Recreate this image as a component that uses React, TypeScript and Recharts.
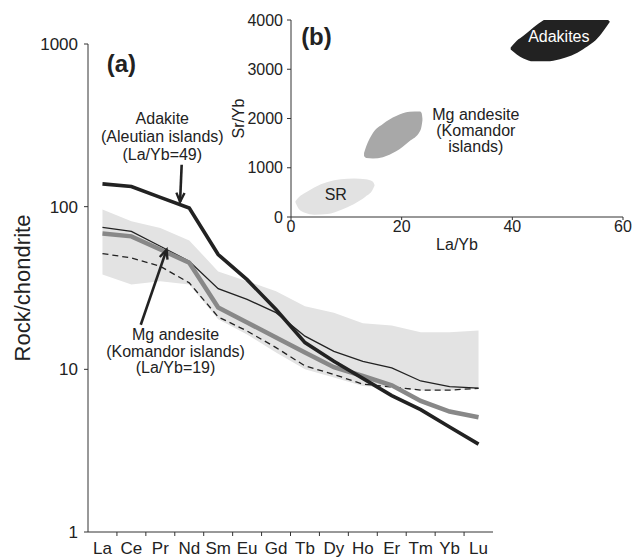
import React from 'react';
import {
  ComposedChart, Line, Area, XAxis, YAxis, CartesianGrid, ReferenceDot, ReferenceLine, Label,
} from 'recharts';

// REE patterns, chondrite-normalised
const elements = ['La', 'Ce', 'Pr', 'Nd', 'Sm', 'Eu', 'Gd', 'Tb', 'Dy', 'Ho', 'Er', 'Tm', 'Yb', 'Lu'];
const adakite = [138, 133, 114, 98, 50.8, 35.6, 23.3, 14.6, 11.2, 8.8, 6.9, 5.65, 4.42, 3.47];
const mgAndesite = [68.3, 65.7, 54.5, 45.2, 24, 19.4, 15.7, 12.7, 10.3, 9.1, 7.98, 6.39, 5.5, 5.08];
const thinPattern = [74.6, 70.5, 57.1, 46.2, 31.3, 26.9, 22.3, 16.0, 12.9, 11.2, 10.2, 8.48, 7.83, 7.66];
const dashedPattern = [51.5, 48.4, 43, 34, 21, 17.2, 13.6, 10.5, 9.3, 8.1, 7.8, 7.45, 7.45, 7.64];
const fieldHigh = [95.9, 81.3, 74, 62, 40, 34.8, 30.2, 24.4, 22.3, 19.2, 18.6, 16.9, 16.9, 17.3];
const fieldLow = [38.3, 33.2, 34.8, 33.2, 20.3, 16.4, 12.7, 10, 8.9, 7.9, 7.7, 7.4, 7.4, 7.6];
const yTicks = [1, 10, 100, 1000];

// inset (b): Sr/Yb vs La/Yb fields, outline as La/Yb with low/high Sr/Yb
const srLaYb = [0.8, 1.5, 2.5, 4.2, 6.6, 9, 11.4, 13.5, 14.75, 15.1];
const srLow = [300, 150, 85, 45, 61, 143, 265, 414, 551, 640];
const srHigh = [320, 410, 485, 600, 710, 765, 780, 765, 721, 650];
const mgLaYb = [13.2, 13.6, 14.8, 16.6, 19.0, 21.4, 23.3, 23.6, 23.75];
const mgLow = [1240, 1200, 1190, 1215, 1333, 1537, 1741, 1850, 1960];
const mgHigh = [1300, 1435, 1708, 1890, 2050, 2135, 2140, 2110, 2000];
const adkLaYb = [39.7, 40.8, 42.0, 43.8, 46.2, 48.6, 52.8, 55.8, 57.1, 57.6];
const adkLow = [3400, 3300, 3218, 3160, 3160, 3204, 3408, 3680, 3880, 3960];
const adkHigh = [3440, 3578, 3680, 3850, 4030, 4100, 4120, 4080, 4020, 3970];
const insetXTicks = [0, 20, 40, 60];
const insetYTicks = [0, 1000, 2000, 3000, 4000];

const reeData = elements.map((el, i) => ({
  el,
  adakite: adakite[i],
  mg: mgAndesite[i],
  thin: thinPattern[i],
  dashed: dashedPattern[i],
  field: [fieldLow[i], fieldHigh[i]],
}));

const blob = (xs: number[], lo: number[], hi: number[]) =>
  xs.map((x, i) => ({ x, range: [lo[i], hi[i]] }));

const FONT = '"Liberation Sans", Arial, Helvetica, sans-serif';
const INK = '#222';
const PLOT_W = 405;
const BAND = PLOT_W / elements.length;

const ElementTick = (props: any) => {
  const { x, y, payload, index } = props;
  const axisY = y - 10;
  return (
    <g>
      {index > 0 && (
        <line x1={x - BAND / 2} x2={x - BAND / 2} y1={axisY} y2={axisY + 4} stroke="#333" strokeWidth={1} />
      )}
      <text x={x} y={y} dy="0.71em" textAnchor="middle" fontSize={17} fill={INK} fontFamily={FONT}>
        {payload.value}
      </text>
    </g>
  );
};

const note = (lines: string[], lh: number, size: number, weight = 'normal', fill = INK) => (p: any) => (
  <text
    x={p.cx}
    y={p.cy - ((lines.length - 1) * lh) / 2}
    textAnchor="middle"
    dominantBaseline="central"
    fontSize={size}
    fontWeight={weight}
    fill={fill}
    fontFamily={FONT}
  >
    {lines.map((l, i) => (
      <tspan key={i} x={p.cx} dy={i === 0 ? 0 : lh}>{l}</tspan>
    ))}
  </text>
);

const arrow = (p: any) => {
  const { x1, y1, x2, y2 } = p;
  const a = Math.atan2(y2 - y1, x2 - x1);
  const L = 10;
  const s = 0.42;
  const l1 = [x2 - L * Math.cos(a - s), y2 - L * Math.sin(a - s)];
  const l2 = [x2 - L * Math.cos(a + s), y2 - L * Math.sin(a + s)];
  return (
    <g>
      <line x1={x1} y1={y1} x2={x2} y2={y2} stroke={INK} strokeWidth={2.6} />
      <polyline
        points={`${l1[0]},${l1[1]} ${x2},${y2} ${l2[0]},${l2[1]}`}
        fill="none"
        stroke={INK}
        strokeWidth={2.4}
      />
    </g>
  );
};

const yLabel = (text: string, dx: number, size: number) => (props: any) => {
  const vb = props.viewBox || {};
  const cx = vb.x + dx;
  const cy = vb.y + vb.height / 2;
  return (
    <text
      x={cx}
      y={cy}
      transform={`rotate(-90 ${cx} ${cy})`}
      textAnchor="middle"
      dominantBaseline="central"
      fontSize={size}
      fill={INK}
      fontFamily={FONT}
    >
      {text}
    </text>
  );
};

const xLabel = (text: string, dy: number, size: number) => (props: any) => {
  const vb = props.viewBox || {};
  return (
    <text
      x={vb.x + vb.width / 2}
      y={vb.y + dy}
      textAnchor="middle"
      dominantBaseline="central"
      fontSize={size}
      fill={INK}
      fontFamily={FONT}
    >
      {text}
    </text>
  );
};

const tickStyle = { fontSize: 17, fill: INK, fontFamily: FONT };
const insetTick = { fontSize: 16, fill: INK, fontFamily: FONT };

const App: React.FC = () => {
  return (
    <div style={{ position: 'absolute', left: 0, top: 0, width: 632, height: 558, background: '#fff' }}>
      <div style={{ position: 'absolute', left: 0, top: 0 }}>
        <ComposedChart width={632} height={558} data={reeData} margin={{ top: 44, right: 139, left: 0, bottom: 0 }}>
          <XAxis
            dataKey="el"
            scale="band"
            interval={0}
            tickLine={false}
            tickSize={4}
            tickMargin={6}
            height={26}
            axisLine={{ stroke: '#333' }}
            tick={<ElementTick />}
          />
          <XAxis
            xAxisId="ann"
            type="number"
            orientation="top"
            domain={[0, 14]}
            height={0}
            tick={false}
            tickLine={false}
            axisLine={{ stroke: '#333' }}
          />
          <YAxis
            scale="log"
            type="number"
            domain={[1, 1000]}
            ticks={yTicks}
            allowDataOverflow
            width={88}
            tickSize={4}
            tickMargin={6}
            tick={tickStyle}
            tickLine={{ stroke: '#333' }}
            axisLine={{ stroke: '#333' }}
          >
            <Label content={yLabel('Rock/chondrite', 22, 22)} />
          </YAxis>
          <YAxis
            yAxisId="right"
            orientation="right"
            width={0}
            tick={false}
            tickLine={false}
            axisLine={{ stroke: '#888', strokeWidth: 1.3 }}
          />
          <Area
            dataKey="field"
            type="linear"
            stroke="none"
            fill="#e3e3e3"
            fillOpacity={1}
            isAnimationActive={false}
          />
          <Line dataKey="dashed" type="linear" stroke={INK} strokeWidth={1.3} strokeDasharray="6 4" dot={false} activeDot={false} isAnimationActive={false} />
          <Line dataKey="thin" type="linear" stroke={INK} strokeWidth={1.3} dot={false} activeDot={false} isAnimationActive={false} />
          <Line dataKey="mg" type="linear" stroke="#888" strokeWidth={4.5} dot={false} activeDot={false} isAnimationActive={false} />
          <Line dataKey="adakite" type="linear" stroke={INK} strokeWidth={3.6} dot={false} activeDot={false} isAnimationActive={false} />
          <ReferenceLine
            xAxisId="ann"
            segment={[{ x: 3.007, y: 181 }, { x: 2.955, y: 107 }]}
            shape={arrow}
          />
          <ReferenceLine
            xAxisId="ann"
            segment={[{ x: 1.694, y: 18.8 }, { x: 2.523, y: 54.4 }]}
            shape={arrow}
          />
          <ReferenceDot
            xAxisId="ann"
            x={2.385}
            y={270}
            r={0}
            shape={note(['Adakite', '(Aleutian islands)', '(La/Yb=49)'], 18, 16)}
          />
          <ReferenceDot
            xAxisId="ann"
            x={2.81}
            y={13}
            r={0}
            shape={note(['Mg andesite', '(Komandor islands)', '(La/Yb=19)'], 16.7, 16)}
          />
          <ReferenceDot xAxisId="ann" x={1.07} y={759} r={0} shape={note(['(a)'], 0, 24, 'bold')} />
        </ComposedChart>
      </div>
      <div style={{ position: 'absolute', left: 0, top: 0 }}>
        <ComposedChart width={632} height={260} margin={{ top: 20, right: 9, left: 0, bottom: 0 }}>
          <CartesianGrid horizontal={false} vertical={false} fill="#fff" fillOpacity={1} />
          <XAxis
            dataKey="x"
            type="number"
            domain={[0, 60]}
            ticks={insetXTicks}
            allowDataOverflow
            height={43}
            tickSize={3}
            tickMargin={1}
            tick={insetTick}
            tickLine={{ stroke: '#333' }}
            axisLine={{ stroke: '#333' }}
          >
            <Label content={xLabel('La/Yb', 27, 16)} />
          </XAxis>
          <XAxis
            xAxisId="top"
            type="number"
            orientation="top"
            domain={[0, 60]}
            height={0}
            tick={false}
            tickLine={false}
            axisLine={{ stroke: '#333' }}
          />
          <YAxis
            type="number"
            domain={[0, 4000]}
            ticks={insetYTicks}
            allowDataOverflow
            width={291}
            tickSize={4}
            tickMargin={4}
            tick={insetTick}
            tickLine={{ stroke: '#333' }}
            axisLine={{ stroke: '#333' }}
          >
            <Label content={yLabel('Sr/Yb', 238, 16)} />
          </YAxis>
          <YAxis
            yAxisId="right"
            orientation="right"
            width={0}
            tick={false}
            tickLine={false}
            axisLine={{ stroke: '#888', strokeWidth: 1.3 }}
          />
          <Area data={blob(srLaYb, srLow, srHigh)} dataKey="range" type="monotone" stroke="none" fill="#e2e2e2" fillOpacity={1} isAnimationActive={false} />
          <Area data={blob(mgLaYb, mgLow, mgHigh)} dataKey="range" type="monotone" stroke="none" fill="#a8a8a8" fillOpacity={1} isAnimationActive={false} />
          <Area data={blob(adkLaYb, adkLow, adkHigh)} dataKey="range" type="monotone" stroke="none" fill="#222" fillOpacity={1} isAnimationActive={false} />
          <ReferenceDot x={8.1} y={469} r={0} shape={note(['SR'], 0, 16)} />
          <ReferenceDot x={33.4} y={1761} r={0} shape={note(['Mg andesite', '(Komandor', 'islands)'], 16, 16)} />
          <ReferenceDot x={48.4} y={3680} r={0} shape={note(['Adakites'], 0, 16, 'normal', '#fff')} />
          <ReferenceDot x={4.6} y={3673} r={0} shape={note(['(b)'], 0, 24, 'bold')} />
        </ComposedChart>
      </div>
    </div>
  );
};

export default App;
